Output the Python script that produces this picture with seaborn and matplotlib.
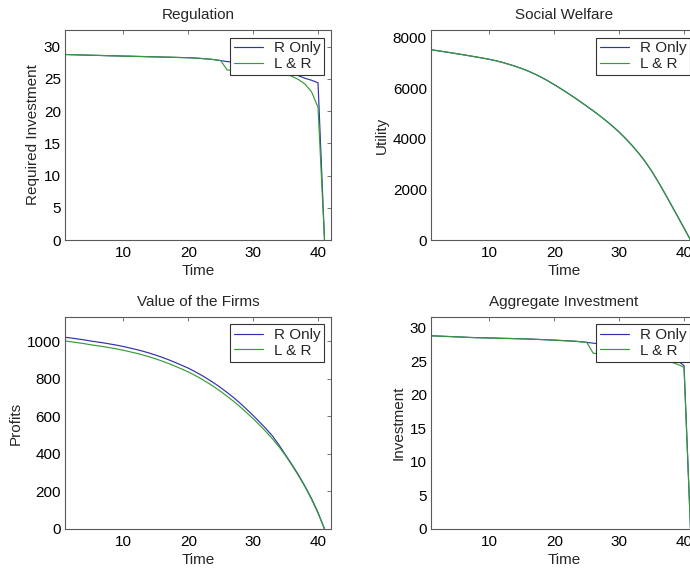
import matplotlib
matplotlib.use("Agg")
import matplotlib.pyplot as plt
import seaborn as sns

# Time periods of the simulation
time = list(range(1, 42))

# Regulation: required investment per period
reg_r_only = [28.8, 28.77, 28.74, 28.71, 28.68, 28.66, 28.63, 28.6, 28.58, 28.55,
              28.53, 28.5, 28.48, 28.45, 28.43, 28.4, 28.38, 28.35, 28.32, 28.3,
              28.25, 28.18, 28.1, 28.0, 27.85, 27.7, 27.6, 27.5, 27.4, 27.3,
              27.15, 27.0, 26.8, 26.6, 26.3, 26.0, 25.5, 25.1, 24.8, 24.4, 0.0]
reg_l_and_r = [28.8, 28.77, 28.74, 28.71, 28.68, 28.66, 28.63, 28.6, 28.58, 28.55,
               28.53, 28.5, 28.48, 28.45, 28.43, 28.4, 28.38, 28.35, 28.32, 28.3,
               28.25, 28.18, 28.1, 28.0, 27.85, 26.4, 26.3, 26.25, 26.2, 26.1,
               26.05, 26.0, 25.9, 25.85, 25.75, 25.4, 24.9, 24.2, 23.0, 20.6, 0.0]

# Social welfare (utility)
welfare_r_only = [7520, 7482, 7443, 7403, 7362, 7320, 7277, 7233, 7188, 7140,
                  7085, 7020, 6945, 6865, 6775, 6675, 6560, 6432, 6292, 6140,
                  5982, 5818, 5648, 5472, 5290, 5105, 4913, 4711, 4496, 4264,
                  4009, 3734, 3434, 3104, 2729, 2309, 1864, 1404, 939, 471, 0]
welfare_l_and_r = [7520, 7482, 7443, 7403, 7362, 7320, 7277, 7233, 7188, 7140,
                   7085, 7020, 6945, 6865, 6775, 6675, 6560, 6432, 6292, 6140,
                   5982, 5818, 5648, 5472, 5290, 5105, 4913, 4711, 4496, 4264,
                   4009, 3734, 3434, 3104, 2729, 2309, 1864, 1404, 939, 471, 0]

# Value of the firms (profits)
firms_r_only = [1020, 1016, 1011, 1006, 1000, 995, 990, 984, 978, 971,
                963, 955, 946, 936, 925, 913, 900, 886, 871, 856,
                838, 819, 798, 776, 752, 726, 699, 669, 637, 604,
                569, 533, 494, 446, 394, 342, 287, 227, 162, 88, 0]
firms_l_and_r = [1000, 996, 991, 986, 980, 975, 970, 964, 958, 951,
                 943, 935, 926, 916, 905, 893, 880, 866, 851, 836,
                 818, 799, 778, 756, 732, 706, 679, 650, 619, 587,
                 553, 517, 479, 437, 390, 338, 283, 224, 158, 84, 0]

# Aggregate investment
agg_r_only = [28.8, 28.76, 28.72, 28.68, 28.64, 28.6, 28.55, 28.52, 28.5, 28.47,
              28.45, 28.42, 28.4, 28.37, 28.35, 28.32, 28.28, 28.24, 28.2, 28.15,
              28.1, 28.05, 28.0, 27.92, 27.82, 27.7, 27.6, 27.5, 27.35, 27.2,
              27.05, 26.9, 26.7, 26.5, 26.3, 26.05, 25.8, 25.5, 25.1, 24.35, 0.0]
agg_l_and_r = [28.8, 28.76, 28.72, 28.68, 28.64, 28.6, 28.55, 28.52, 28.5, 28.47,
               28.45, 28.42, 28.4, 28.37, 28.35, 28.32, 28.28, 28.24, 28.2, 28.15,
               28.1, 28.05, 28.0, 27.92, 27.82, 26.2, 26.1, 26.0, 25.95, 25.9,
               25.8, 25.7, 25.6, 25.5, 25.4, 25.3, 25.15, 24.9, 24.55, 24.1, 0.0]

series_labels = ["R Only", "L & R"]
x_ticks = [10, 20, 30, 40]

sns.set_style("white")
plt.rcParams["font.family"] = ["Liberation Sans", "DejaVu Sans"]
plt.rcParams["font.size"] = 11

BLUE = "#3030b0"
GREEN = "#359c35"
FRAME = "#5a5a5a"
FS = 11

W, H = 690, 572
fig = plt.figure(figsize=(W / 100, H / 100), dpi=100)
fig.patch.set_facecolor("white")


def panel_axes(left, top, width, height):
    return fig.add_axes([left / W, 1 - (top + height) / H, width / W, height / H])


panels = [
    dict(box=(65, 30, 266, 210), title="Regulation", ylabel="Required Investment",
         r=reg_r_only, lr=reg_l_and_r, ylim=32.6, yticks=[0, 5, 10, 15, 20, 25, 30]),
    dict(box=(431, 30, 266, 210), title="Social Welfare", ylabel="Utility",
         r=welfare_r_only, lr=welfare_l_and_r, ylim=8300, yticks=[0, 2000, 4000, 6000, 8000]),
    dict(box=(65, 317, 266, 212), title="Value of the Firms", ylabel="Profits",
         r=firms_r_only, lr=firms_l_and_r, ylim=1128, yticks=[0, 200, 400, 600, 800, 1000]),
    dict(box=(431, 317, 266, 212), title="Aggregate Investment", ylabel="Investment",
         r=agg_r_only, lr=agg_l_and_r, ylim=31.6, yticks=[0, 5, 10, 15, 20, 25, 30]),
]

for p in panels:
    left, top, width, height = p["box"]
    ax = panel_axes(left, top, width, height)
    ax.set_facecolor("white")
    sns.lineplot(x=time, y=p["r"], ax=ax, color=BLUE, linewidth=0.85, label=series_labels[0])
    sns.lineplot(x=time, y=p["lr"], ax=ax, color=GREEN, linewidth=0.85, label=series_labels[1])

    ax.set_xlim(1, 42)
    ax.set_ylim(0, p["ylim"])
    ax.set_xticks(x_ticks)
    ax.set_yticks(p["yticks"])
    ax.set_title(p["title"], fontsize=FS, pad=8)
    ax.set_xlabel("Time", fontsize=FS, labelpad=3)
    ax.set_ylabel(p["ylabel"], fontsize=FS, labelpad=3)

    for s in ax.spines.values():
        s.set_visible(True)
        s.set_color(FRAME)
        s.set_linewidth(0.8)
    ax.tick_params(direction="in", top=True, right=True, length=3, width=0.6,
                   color=FRAME, labelsize=FS, labelcolor="black")
    ax.tick_params(axis="x", pad=4)
    ax.tick_params(axis="y", pad=3)

    leg = ax.legend(loc="upper right",
                    bbox_to_anchor=(1 - 6.7 / width, 1 - 7.5 / height),
                    borderaxespad=0, frameon=True, fancybox=False, shadow=False,
                    framealpha=1, edgecolor="#333333", fontsize=FS,
                    handlelength=1.9, handletextpad=0.7, borderpad=0.25,
                    labelspacing=0.1)
    leg.get_frame().set_linewidth(0.8)

fig.savefig("out.png", dpi=100)
